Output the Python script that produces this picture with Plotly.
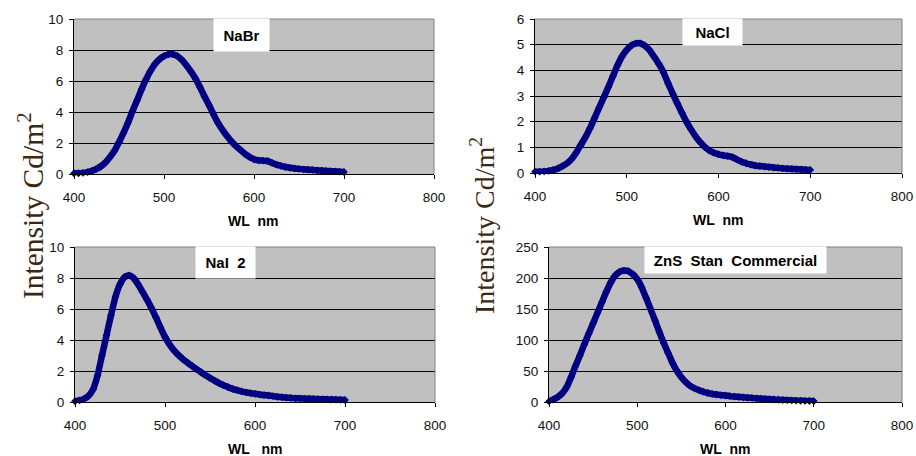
import plotly.graph_objects as go

wl = list(range(400, 701, 5))

nabr = [0.05, 0.05, 0.07, 0.12, 0.2, 0.33, 0.5, 0.75, 1.1, 1.5,
        2.05, 2.65, 3.3, 4.05, 4.75, 5.45, 6.1, 6.65, 7.1, 7.4,
        7.6, 7.72, 7.72, 7.6, 7.35, 7.0, 6.6, 6.15, 5.6, 5.0,
        4.45, 3.85, 3.3, 2.85, 2.45, 2.1, 1.8, 1.55, 1.3, 1.1,
        0.95, 0.88, 0.86, 0.84, 0.72, 0.6, 0.52, 0.45, 0.4, 0.36,
        0.33, 0.3, 0.28, 0.26, 0.24, 0.22, 0.2, 0.18, 0.17, 0.15, 0.13]

nacl = [0.05, 0.05, 0.06, 0.08, 0.12, 0.18, 0.27, 0.38, 0.55, 0.8,
        1.1, 1.4, 1.75, 2.15, 2.55, 2.95, 3.35, 3.78, 4.2, 4.55,
        4.8, 4.97, 5.05, 5.05, 4.95, 4.78, 4.52, 4.25, 3.92, 3.5,
        3.1, 2.72, 2.35, 2.0, 1.7, 1.43, 1.2, 1.02, 0.88, 0.79,
        0.73, 0.69, 0.66, 0.62, 0.53, 0.44, 0.38, 0.33, 0.29, 0.27,
        0.25, 0.23, 0.21, 0.2, 0.18, 0.17, 0.16, 0.15, 0.14, 0.13, 0.12]

nai = [0.05, 0.1, 0.2, 0.4, 0.8, 1.7, 3.0, 4.3, 5.6, 6.8,
       7.6, 8.05, 8.17, 8.0, 7.6, 7.1, 6.6, 6.05, 5.45, 4.8,
       4.2, 3.72, 3.33, 3.02, 2.76, 2.54, 2.33, 2.12, 1.92, 1.73,
       1.55, 1.38, 1.22, 1.08, 0.96, 0.85, 0.76, 0.68, 0.62, 0.57,
       0.53, 0.48, 0.45, 0.42, 0.38, 0.34, 0.31, 0.28, 0.26, 0.24,
       0.23, 0.22, 0.21, 0.2, 0.19, 0.18, 0.17, 0.16, 0.15, 0.14, 0.13]

zns = [1, 4, 8, 14, 24, 40, 58, 75, 93, 110,
       127, 144, 161, 178, 193, 204, 210, 212, 211, 206,
       198, 185, 168, 150, 132, 113, 95, 79, 63, 50,
       40, 32, 26, 22, 19, 16.5, 14.5, 13, 12, 11,
       10.5, 9.5, 8.8, 8.2, 7.6, 7.0, 6.5, 6.0, 5.5, 5.0,
       4.5, 4.0, 3.6, 3.2, 2.9, 2.6, 2.3, 2.0, 1.8, 1.6, 1.5]

titles = ["NaBr", "NaCl", "NaI\u00a0 2", "ZnS\u00a0 Stan\u00a0 Commercial"]
series = [nabr, nacl, nai, zns]
y_max = [10, 6, 10, 250]
y_dtick = [2, 1, 2, 50]
x_ticks = [400, 500, 600, 700, 800]
xlabels = ["WL\u00a0 nm", "WL\u00a0 nm", "WL\u00a0\u00a0 nm", "WL\u00a0 nm"]

W, H = 916, 456
# plot areas in pixels (left, right, top, bottom)
areas = [(74, 434, 19, 174), (535, 902, 19, 173), (75, 435, 247, 402), (549, 902, 247, 402)]
# title boxes (left, right, top, bottom)
boxes = [(214, 269, 19, 51), (683, 742, 19, 45), (196, 255, 247, 278), (645, 826, 247, 273)]

fig = go.Figure()
layout = dict(width=W, height=H, margin=dict(l=0, r=0, t=0, b=0, autoexpand=False),
              paper_bgcolor="white", plot_bgcolor="#c0c0c0", showlegend=False)
annotations = []
shapes = []
navy = "#000080"
tfont = dict(family="Liberation Sans, Arial", size=13.5, color="#111111")
for i in range(4):
    l, r, t, b = areas[i]
    xa = "xaxis" if i == 0 else f"xaxis{i+1}"
    ya = "yaxis" if i == 0 else f"yaxis{i+1}"
    xr = "x" if i == 0 else f"x{i+1}"
    yr = "y" if i == 0 else f"y{i+1}"
    fig.add_trace(go.Scatter(x=wl, y=series[i], mode="lines+markers", xaxis=xr, yaxis=yr,
                             line=dict(color=navy, width=6.5, shape="spline", smoothing=0.5),
                             marker=dict(symbol="diamond", size=6, color=navy),
                             cliponaxis=False, hoverinfo="skip"))
    layout[xa] = dict(domain=[l / W, r / W], anchor=yr, range=[400, 800], automargin=False,
                      tickvals=x_ticks, ticks="outside", ticklen=4, tickcolor="black",
                      showgrid=False, showline=True, linecolor="black", linewidth=1,
                      zeroline=False, ticklabelstandoff=7, tickfont=tfont)
    layout[ya] = dict(domain=[1 - b / H, 1 - t / H], anchor=xr, range=[0, y_max[i]],
                      automargin=False,
                      dtick=y_dtick[i], tick0=0, ticks="outside", ticklen=4, tickcolor="black",
                      showgrid=True, gridcolor="black", gridwidth=1,
                      showline=True, linecolor="black", linewidth=1, zeroline=False,
                      ticklabelstandoff=3, tickfont=tfont)
    # grey top/right frame
    shapes.append(dict(type="line", xref="paper", yref="paper", x0=l / W, x1=r / W,
                       y0=1 - t / H, y1=1 - t / H, line=dict(color="#808080", width=1), layer="above"))
    shapes.append(dict(type="line", xref="paper", yref="paper", x0=r / W, x1=r / W,
                       y0=1 - t / H, y1=1 - b / H, line=dict(color="#808080", width=1), layer="above"))
    bl, br, bt, bb = boxes[i]
    annotations.append(dict(text="<b>" + titles[i] + "</b>", xref="paper", yref="paper",
                            x=(bl + br) / 2 / W, y=1 - (bt + bb) / 2 / H,
                            xanchor="center", yanchor="middle", showarrow=False,
                            width=br - bl, height=bb - bt, borderpad=0, bgcolor="white",
                            font=dict(family="Liberation Sans, Arial", size=15, color="black")))
    annotations.append(dict(text="<b>" + xlabels[i] + "</b>", xref="paper", yref="paper",
                            x=(l + r) / 2 / W, y=1 - (b + 46.5) / H,
                            xanchor="center", yanchor="middle", showarrow=False,
                            font=dict(family="Liberation Sans, Arial", size=14, color="black")))

ylab_font = dict(family="Liberation Serif, Times New Roman", color="#3a2812")
annotations.append(dict(text="Intensity Cd/m<sup>2</sup>", xref="paper", yref="paper",
                        x=31 / W, y=1 - 206 / H, xanchor="center", yanchor="middle",
                        textangle=-90, showarrow=False, font=dict(size=29.5, **ylab_font)))
annotations.append(dict(text="Intensity Cd/m<sup>2</sup>", xref="paper", yref="paper",
                        x=482 / W, y=1 - 225 / H, xanchor="center", yanchor="middle",
                        textangle=-90, showarrow=False, font=dict(size=28, **ylab_font)))

layout["annotations"] = annotations
layout["shapes"] = shapes
fig.update_layout(**layout)
fig.write_html("out.html", config={"displayModeBar": False},
               post_script="document.body.style.margin='0';document.body.style.overflow='hidden';")
